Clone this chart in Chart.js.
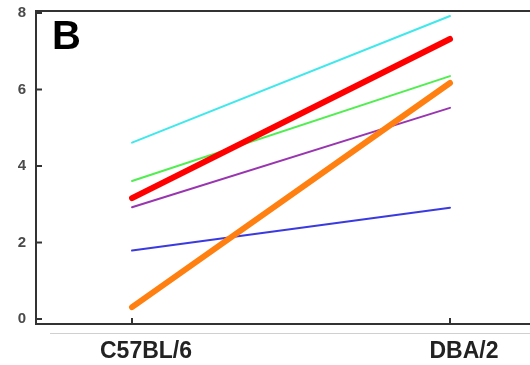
<!DOCTYPE html>
<html>
<head>
<meta charset="utf-8">
<script src="https://cdn.jsdelivr.net/npm/chart.js@4.4.1/dist/chart.umd.min.js"></script>
<style>
  html, body { margin: 0; padding: 0; background: #fff; }
  #wrap { position: relative; width: 530px; height: 365px; }
  #panel { position: absolute; left: 52px; top: 13px; font: bold 40px "Liberation Sans", Arial, sans-serif; color: #000; }
</style>
</head>
<body>
<div id="wrap">
  <canvas id="chart" width="530" height="365"></canvas>
  <div id="panel">B</div>
</div>
<script>
  // strains on the x axis
  var STRAINS = ['C57BL/6', 'DBA/2'];
  var Y_TICKS = [0, 2, 4, 6, 8];

  // one line per series: value at C57BL/6, value at DBA/2
  var CYAN = [4.61, 7.92];
  var RED = [3.16, 7.32];
  var GREEN = [3.61, 6.35];
  var PURPLE = [2.92, 5.52];
  var BLUE = [1.79, 2.91];
  var ORANGE = [0.31, 6.17];

  function pts(vals) {
    return vals.map(function (v, i) { return { x: i, y: v }; });
  }

  function line(vals, color, width) {
    return {
      data: pts(vals),
      borderColor: color,
      backgroundColor: color,
      borderWidth: width,
      borderCapStyle: 'round',
      pointRadius: 0,
      tension: 0
    };
  }

  /* inward tick marks + faint rule below the axis */
  var innerTicks = {
    id: 'innerTicks',
    afterDraw: function (chart) {
      var ctx = chart.ctx, a = chart.chartArea;
      var ys = chart.scales.y, xs = chart.scales.x;
      ctx.save();
      ctx.strokeStyle = '#333';
      ctx.lineWidth = 2;
      Y_TICKS.forEach(function (t) {
        var py = ys.getPixelForValue(t);
        ctx.beginPath(); ctx.moveTo(a.left, py); ctx.lineTo(a.left + 6, py); ctx.stroke();
      });
      STRAINS.forEach(function (s, i) {
        var px = xs.getPixelForValue(i);
        ctx.beginPath(); ctx.moveTo(px, a.bottom); ctx.lineTo(px, a.bottom - 6); ctx.stroke();
      });
      ctx.strokeStyle = '#d0d0d0';
      ctx.lineWidth = 1;
      ctx.beginPath(); ctx.moveTo(50, a.bottom + 9.5); ctx.lineTo(530, a.bottom + 9.5); ctx.stroke();
      ctx.restore();
    }
  };

  function noPad(s) {
    s.paddingTop = 0; s.paddingBottom = 0; s.paddingLeft = 0; s.paddingRight = 0;
  }

  new Chart(document.getElementById('chart'), {
    type: 'line',
    data: {
      datasets: [
        line(ORANGE, '#ff8010', 6),
        line(RED, '#ff0000', 6),
        line(CYAN, '#40e8ec', 2),
        line(GREEN, '#50ee50', 2),
        line(PURPLE, '#9a35b0', 2),
        line(BLUE, '#3a3ae0', 2)
      ]
    },
    options: {
      responsive: false,
      animation: false,
      layout: { padding: 0 },
      plugins: { legend: { display: false }, tooltip: { enabled: false } },
      scales: {
        x: {
          type: 'linear',
          position: 'bottom',
          min: -0.302,
          max: 1.2516,
          afterBuildTicks: function (s) { s.ticks = STRAINS.map(function (n, i) { return { value: i }; }); },
          afterFit: function (s) { s.height = 41; noPad(s); },
          grid: { display: false, drawTicks: false },
          border: { display: true, color: '#333', width: 2 },
          ticks: {
            padding: 14,
            labelOffset: 14,
            color: '#222',
            font: { family: 'Liberation Sans, Arial, sans-serif', size: 23, weight: 'bold' },
            callback: function (v) { return STRAINS[v]; }
          }
        },
        x2: {
          type: 'linear',
          position: 'top',
          min: 0, max: 1,
          afterFit: function (s) { s.height = 11; noPad(s); },
          grid: { display: false, drawTicks: false },
          border: { display: true, color: '#333', width: 2 },
          ticks: { display: false }
        },
        y: {
          min: -0.13,
          max: 8.052,
          afterBuildTicks: function (s) { s.ticks = Y_TICKS.map(function (v) { return { value: v }; }); },
          afterFit: function (s) { s.width = 36; noPad(s); },
          grid: { display: false, drawTicks: false },
          border: { display: true, color: '#333', width: 2 },
          ticks: {
            padding: 10,
            color: '#4a4a4a',
            font: { family: 'Liberation Sans, Arial, sans-serif', size: 15, weight: 'bold' }
          }
        }
      }
    },
    plugins: [innerTicks]
  });
</script>
</body>
</html>
